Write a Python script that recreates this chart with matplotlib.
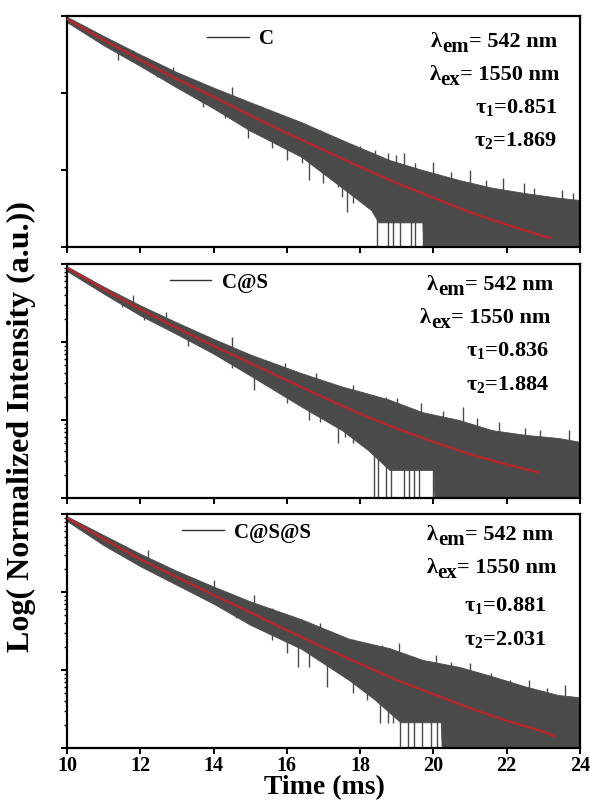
import numpy as np
import matplotlib
matplotlib.use("Agg")
import matplotlib.pyplot as plt
from matplotlib.lines import Line2D
from matplotlib.ticker import LogLocator, NullFormatter

plt.rcParams['font.family'] = ['Liberation Serif', 'DejaVu Serif']
plt.rcParams['font.weight'] = 'bold'
plt.rcParams['mathtext.fontset'] = 'custom'
plt.rcParams['mathtext.rm'] = 'Liberation Serif:bold'
plt.rcParams['mathtext.it'] = 'Liberation Serif:bold'
plt.rcParams['mathtext.bf'] = 'Liberation Serif:bold'

# ---------------- data (log10 of normalized intensity) ----------------
samples = ["C", "C@S", "C@S@S"]
tau1 = ["0.851", "0.836", "0.881"]
tau2 = ["1.869", "1.884", "2.031"]
x_ticks = [10, 12, 14, 16, 18, 20, 22, 24]

# fitted (red) curves
fit_t_C = [10, 11, 12, 13, 14, 15, 16, 17, 18, 19, 20, 21, 22, 23, 23.2]
fit_C = [-0.04, -0.31, -0.57, -0.82, -1.05, -1.29, -1.52, -1.74, -1.96, -2.17, -2.36, -2.55, -2.71, -2.86, -2.88]
fit_t_CS = [10, 11, 12, 13, 14, 15, 16, 17, 18, 19, 20, 21, 22, 22.85]
fit_CS = [-0.05, -0.32, -0.58, -0.82, -1.05, -1.27, -1.49, -1.71, -1.92, -2.11, -2.28, -2.44, -2.57, -2.67]
fit_t_CSS = [10, 11, 12, 13, 14, 15, 16, 17, 18, 19, 20, 21, 22, 23, 23.3]
fit_CSS = [-0.05, -0.32, -0.58, -0.81, -1.04, -1.26, -1.49, -1.71, -1.92, -2.13, -2.31, -2.49, -2.65, -2.79, -2.85]

# measured data band: upper / lower envelope
up_t_C = [10, 11, 12, 13, 14, 15, 16.4, 17.7, 18.8, 19.7, 20.7, 21.6, 22.5, 23.4, 24]
up_C = [-0.01, -0.26, -0.50, -0.73, -0.93, -1.12, -1.38, -1.65, -1.87, -2.00, -2.13, -2.23, -2.30, -2.36, -2.39]
lo_t_C = [10, 11, 12, 13, 14, 15, 16.4, 17.7, 18.3, 18.5, 19.7, 19.8, 24]
lo_C = [-0.08, -0.38, -0.65, -0.93, -1.20, -1.49, -1.83, -2.30, -2.52, -2.68, -2.68, -4.0, -4.0]

up_t_CS = [10, 11, 12, 13, 14, 15, 16.4, 17.5, 18.2, 18.8, 19.7, 20.7, 21.6, 22.5, 23.4, 24]
up_CS = [-0.03, -0.29, -0.53, -0.75, -0.96, -1.16, -1.40, -1.57, -1.66, -1.74, -1.90, -2.00, -2.13, -2.19, -2.23, -2.28]
lo_t_CS = [10, 11, 12, 13, 14, 15, 16.4, 17.5, 18.2, 18.8, 20.0, 20.1, 24]
lo_CS = [-0.09, -0.38, -0.66, -0.90, -1.15, -1.43, -1.83, -2.13, -2.38, -2.64, -2.64, -4.0, -4.0]

up_t_CSS = [10, 11, 12, 13, 14, 15, 16.4, 17.7, 18.8, 19.7, 20.7, 21.6, 22.5, 23.4, 24]
up_CSS = [-0.03, -0.27, -0.51, -0.73, -0.93, -1.12, -1.35, -1.60, -1.72, -1.87, -1.96, -2.08, -2.21, -2.32, -2.35]
lo_t_CSS = [10, 11, 12, 13, 14, 15, 16.4, 17.7, 18.4, 19.1, 20.2, 20.3, 24]
lo_CSS = [-0.09, -0.40, -0.67, -0.91, -1.15, -1.42, -1.73, -2.13, -2.38, -2.67, -2.67, -4.0, -4.0]

# noise spikes (time, log10 tip)
spk_up_t_C = [11.8, 12.9, 14.5, 15.3, 15.9, 16.45, 16.9, 17.3, 18.0, 18.4, 18.75, 18.97, 19.2, 19.5, 19.98,
              20.47, 21.0, 21.43, 21.9, 22.47, 22.74, 23.5, 23.8]
spk_up_C = [-0.44, -0.66, -0.92, -1.17, -1.32, -1.40, -1.48, -1.58, -1.69, -1.74, -1.78, -1.81, -1.78, -1.91, -1.90,
            -2.03, -2.00, -2.13, -2.10, -2.17, -2.24, -2.26, -2.30]
spk_dn_t_C = [11.4, 12.45, 13.7, 14.3, 14.95, 15.6, 16.0, 16.4, 16.6, 17.0, 17.4, 17.5, 17.65, 17.8, 18.2,
              18.45, 18.75, 18.89, 19.1, 19.38, 19.49, 19.71]
spk_dn_C = [-0.57, -0.79, -1.18, -1.32, -1.58, -1.71, -1.87, -1.91, -2.13, -2.17, -2.22, -2.35, -2.55, -2.43, -2.48,
            -4.0, -4.0, -4.0, -4.0, -4.0, -4.0, -4.0]

spk_up_t_CS = [11.8, 12.7, 14.5, 15.96, 16.8, 17.8, 18.7, 19.0, 19.65, 20.25, 20.8, 21.2, 21.8, 22.5, 22.9, 23.7]
spk_up_CS = [-0.40, -0.62, -0.94, -1.27, -1.40, -1.55, -1.70, -1.72, -1.78, -1.88, -1.83, -1.97, -2.03, -2.10, -2.13, -2.13]
spk_dn_t_CS = [11.5, 12.1, 13.3, 14.5, 15.1, 15.6, 16.0, 16.6, 16.9, 17.4, 17.6, 17.8,
               18.37, 18.5, 18.7, 18.83, 19.19, 19.32, 19.46, 19.6, 20.0]
spk_dn_CS = [-0.55, -0.72, -1.05, -1.33, -1.62, -1.59, -1.78, -2.00, -2.03, -2.29, -2.22, -2.29,
             -4.0, -4.0, -4.0, -4.0, -4.0, -4.0, -4.0, -4.0, -4.0]

spk_up_t_CSS = [12.2, 14.0, 15.1, 15.6, 16.9, 17.8, 18.6, 19.05, 19.46, 20.06, 20.47, 21.0, 21.57, 22.1, 22.6, 23.1, 23.6]
spk_up_CSS = [-0.46, -0.85, -1.04, -1.20, -1.40, -1.60, -1.68, -1.65, -1.83, -1.81, -1.90, -1.91, -2.04, -2.13, -2.13, -2.23, -2.19]
spk_dn_t_CSS = [11.2, 12.5, 13.8, 14.5, 14.6, 15.6, 16.0, 16.3, 16.6, 17.1, 17.4, 17.8, 18.2, 18.55, 18.75, 18.9,
                19.08, 19.3, 19.46, 19.7, 19.93, 20.1]
spk_dn_CSS = [-0.45, -0.75, -1.10, -1.23, -1.33, -1.62, -1.78, -1.96, -1.96, -2.22, -2.04, -2.29, -2.38, -2.68, -2.68, -2.68,
              -4.0, -4.0, -4.0, -4.0, -4.0, -4.0]

panels = [
    dict(fit_t=fit_t_C, fit=fit_C, up_t=up_t_C, up=up_C, lo_t=lo_t_C, lo=lo_C,
         su_t=spk_up_t_C, su=spk_up_C, sd_t=spk_dn_t_C, sd=spk_dn_C),
    dict(fit_t=fit_t_CS, fit=fit_CS, up_t=up_t_CS, up=up_CS, lo_t=lo_t_CS, lo=lo_CS,
         su_t=spk_up_t_CS, su=spk_up_CS, sd_t=spk_dn_t_CS, sd=spk_dn_CS),
    dict(fit_t=fit_t_CSS, fit=fit_CSS, up_t=up_t_CSS, up=up_CSS, lo_t=lo_t_CSS, lo=lo_CSS,
         su_t=spk_up_t_CSS, su=spk_up_CSS, sd_t=spk_dn_t_CSS, sd=spk_dn_CSS),
]

# ---------------- layout ----------------
W, H = 590, 802
fig = plt.figure(figsize=(W / 100, H / 100), dpi=100)
left, right = 67 / W, 580 / W
boxes = [(16, 247), (264, 498), (514, 748)]
legend_pos = [(0.273, 0.90), (0.20, 0.92), (0.224, 0.92)]
text_x = [(0.955, 0.961, 0.955), (0.947, 0.942, 0.940), (0.947, 0.955, 0.934)]
text_y = [(0.887, 0.745, 0.602, 0.463), (0.910, 0.769, 0.632, 0.483), (0.910, 0.769, 0.611, 0.462)]

band_color = '#4b4b4b'
red = '#bd2429'
FS = 16

for i, (p, (ytop, ybot)) in enumerate(zip(panels, boxes)):
    ax = fig.add_axes([left, 1 - ybot / H, right - left, (ybot - ytop) / H])
    ax.set_yscale('log')
    ax.set_xlim(10, 24)
    ax.set_ylim(1e-3, 1)

    tt = np.union1d(p['up_t'], p['lo_t'])
    upv = np.interp(tt, p['up_t'], p['up'])
    lov = np.interp(tt, p['lo_t'], p['lo'])
    ax.fill_between(tt, 10 ** lov, 10 ** upv, color=band_color, lw=0.6, zorder=2)

    base_u = np.interp(p['su_t'], p['fit_t'], p['fit'])
    ax.vlines(p['su_t'], 10 ** base_u, 10 ** np.array(p['su']), color=band_color, lw=1.0, zorder=2)
    base_d = np.interp(p['sd_t'], p['fit_t'], p['fit'])
    ax.vlines(p['sd_t'], 10 ** np.array(p['sd']), 10 ** base_d, color=band_color, lw=1.0, zorder=2)

    ax.plot(p['fit_t'], 10 ** np.array(p['fit']), color=red, lw=1.6, zorder=3)

    for s in ax.spines.values():
        s.set_linewidth(1.6)
    ax.set_xticks(x_ticks)
    ax.yaxis.set_major_locator(LogLocator(base=10, numticks=10))
    ax.yaxis.set_major_formatter(NullFormatter())
    if i > 0:
        ax.yaxis.set_minor_locator(LogLocator(base=10, subs=np.arange(2, 10), numticks=10))
    else:
        ax.yaxis.set_minor_locator(plt.NullLocator())
    ax.yaxis.set_minor_formatter(NullFormatter())
    ax.tick_params(axis='both', which='major', direction='out', length=4, width=1.4)
    ax.tick_params(axis='y', which='minor', direction='out', length=2, width=1.0)
    if i < 2:
        ax.tick_params(axis='x', labelbottom=False)
    else:
        for lab in ax.get_xticklabels():
            lab.set_fontsize(14.5)
            lab.set_fontweight('bold')
        ax.tick_params(axis='x', pad=2)

    h = Line2D([], [], color='#333333', lw=1.0)
    ax.legend([h], [samples[i]], loc='center left', bbox_to_anchor=legend_pos[i],
              frameon=False, handlelength=2.0, handletextpad=0.5,
              borderaxespad=0, borderpad=0, prop={'size': 15, 'weight': 'bold'})

    # annotations: λ_em, λ_ex with big lowered subscripts
    for k, (sub, rest) in enumerate([('em', '= 542 nm'), ('ex', '= 1550 nm')]):
        t3 = ax.text(text_x[i][k], text_y[i][k], rest, transform=ax.transAxes,
                     ha='right', va='center', fontsize=FS, fontweight='bold')
        t2 = ax.annotate(sub, xy=(0, 0.5), xycoords=t3, xytext=(0, -3.5),
                         textcoords='offset points', ha='right', va='center',
                         fontsize=FS - 1, fontweight='bold')
        ax.annotate('λ', xy=(0, 0.5), xycoords=t2, xytext=(0, 3.5),
                    textcoords='offset points', ha='right', va='center',
                    fontsize=FS, fontweight='bold')
    ax.text(text_x[i][2], text_y[i][2], 'τ$_{1}$=' + tau1[i], transform=ax.transAxes,
            ha='right', va='center', fontsize=FS, fontweight='bold')
    ax.text(text_x[i][2], text_y[i][3], 'τ$_{2}$=' + tau2[i], transform=ax.transAxes,
            ha='right', va='center', fontsize=FS, fontweight='bold')

fig.text(0.037, 0.468, 'Log( Normalized Intensity (a.u.))', rotation=90,
         ha='center', va='center', fontsize=23, fontweight='bold')
fig.text(0.55, 0.002, 'Time (ms)', ha='center', va='bottom', fontsize=20, fontweight='bold')

fig.savefig('out.png', dpi=100)
